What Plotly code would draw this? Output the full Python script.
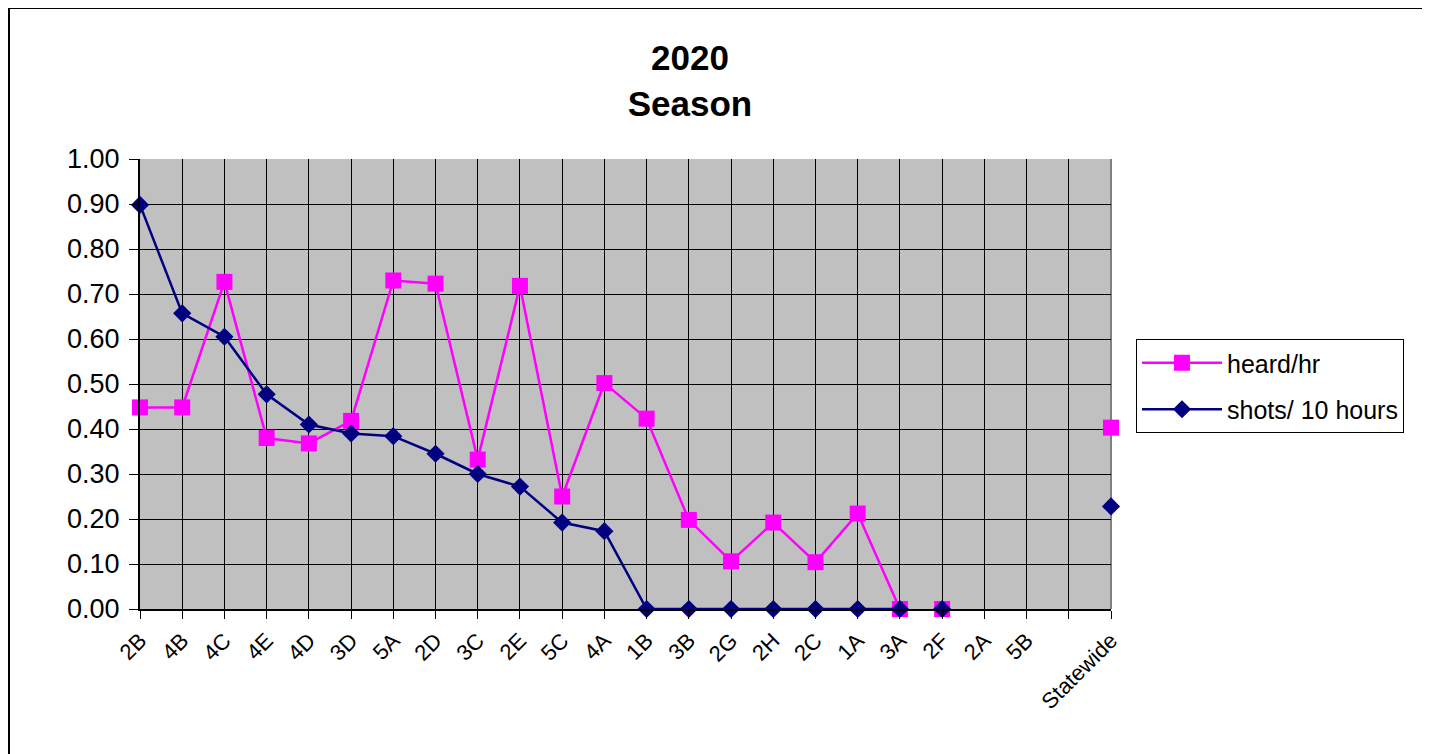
import plotly.graph_objects as go

categories = ["2B", "4B", "4C", "4E", "4D", "3D", "5A", "2D", "3C", "2E", "5C", "4A",
              "1B", "3B", "2G", "2H", "2C", "1A", "3A", "2F", "2A", "5B", "", "Statewide"]
heard_per_hr = [0.448, 0.448, 0.727, 0.380, 0.368, 0.418, 0.730, 0.723, 0.332, 0.718, 0.250, 0.502,
                0.423, 0.198, 0.106, 0.192, 0.104, 0.212, 0.0, 0.0, None, None, None, 0.403]
shots_per_10h = [0.898, 0.657, 0.605, 0.477, 0.410, 0.390, 0.384, 0.345, 0.300, 0.272, 0.192, 0.173,
                 0.0, 0.0, 0.0, 0.0, 0.0, 0.0, 0.0, 0.0, None, None, None, 0.228]
# points that stand alone (not joined to a neighbour by a line)
isolated = ["2F"]
y_ticks = [0.0, 0.1, 0.2, 0.3, 0.4, 0.5, 0.6, 0.7, 0.8, 0.9, 1.0]

PINK = "#FF00FF"
NAVY = "#000080"
FONT = "Liberation Sans, Arial, sans-serif"

x = list(range(len(categories)))


def split(vals):
    joined = [None if c in isolated else v for c, v in zip(categories, vals)]
    alone = [v if c in isolated else None for c, v in zip(categories, vals)]
    return joined, alone


heard_j, heard_a = split(heard_per_hr)
shots_j, shots_a = split(shots_per_10h)

fig = go.Figure()
fig.add_trace(go.Scatter(x=x, y=heard_j, mode="lines+markers", name="heard/hr",
                         legendgroup="heard",
                         line=dict(color=PINK, width=2.5),
                         marker=dict(symbol="square", size=16, color=PINK),
                         cliponaxis=False, connectgaps=False))
fig.add_trace(go.Scatter(x=x, y=heard_a, mode="markers", showlegend=False,
                         legendgroup="heard",
                         marker=dict(symbol="square", size=16, color=PINK),
                         cliponaxis=False))
fig.add_trace(go.Scatter(x=x, y=shots_j, mode="lines+markers", name="shots/ 10 hours",
                         legendgroup="shots",
                         line=dict(color=NAVY, width=2.5),
                         marker=dict(symbol="diamond", size=14, color=NAVY),
                         cliponaxis=False, connectgaps=False))
fig.add_trace(go.Scatter(x=x, y=shots_a, mode="markers", showlegend=False,
                         legendgroup="shots",
                         marker=dict(symbol="diamond", size=14, color=NAVY),
                         cliponaxis=False))

# page has an 8px body margin; work in page pixels and convert
OFF = 8
W, H = 1430 - OFF, 754 - OFF
L, R, T, B = 140 - OFF, 1111 - OFF, 159 - OFF, 609 - OFF
pw, ph = R - L, B - T


def px(v):  # page pixel -> paper x
    return (v - OFF - L) / pw


def py(v):  # page pixel -> paper y
    return (B - (v - OFF)) / ph


fig.update_layout(
    width=W, height=H,
    margin=dict(l=L, r=W - R, t=T, b=H - B, autoexpand=False),
    paper_bgcolor="white",
    plot_bgcolor="#C0C0C0",
    font=dict(family=FONT, color="black"),
    title=dict(text="<b>2020<br>Season</b>", x=(690 - OFF) / W, xanchor="center",
               y=1 - (80 - 10 - OFF) / H, yanchor="middle", font=dict(size=35, family=FONT)),
    xaxis=dict(range=[0, len(categories) - 1], tickmode="array", tickvals=x,
               ticktext=categories, tickangle=-45, tickfont=dict(size=22),
               showgrid=True, gridcolor="black", gridwidth=1,
               showline=True, linecolor="black", linewidth=2,
               ticks="outside", ticklen=8, tickcolor="black", zeroline=False),
    yaxis=dict(range=[0, 1], tickmode="array", tickvals=y_ticks,
               ticktext=[f"{v:.2f}" for v in y_ticks], tickfont=dict(size=27),
               ticklabelstandoff=4,
               showgrid=True, gridcolor="black", gridwidth=1,
               showline=True, linecolor="black", linewidth=2,
               ticks="outside", ticklen=9, tickcolor="black", zeroline=False),
    legend=dict(x=px(1136), y=py(339), xanchor="left", yanchor="top",
                bgcolor="white", bordercolor="black", borderwidth=1,
                font=dict(size=25, family=FONT), itemwidth=80,
                tracegroupgap=11),
    showlegend=True,
    shapes=[
        dict(type="line", xref="paper", yref="paper", x0=px(9), x1=px(1440),
             y0=py(8), y1=py(8), line=dict(color="black", width=2)),
        dict(type="line", xref="paper", yref="paper", x0=px(9), x1=px(9),
             y0=py(8), y1=py(770), line=dict(color="black", width=2)),
        dict(type="line", xref="paper", yref="paper", x0=1, x1=1, y0=0, y1=1,
             line=dict(color="#808080", width=2), layer="below"),
    ],
)

fig.write_html("out.html")
